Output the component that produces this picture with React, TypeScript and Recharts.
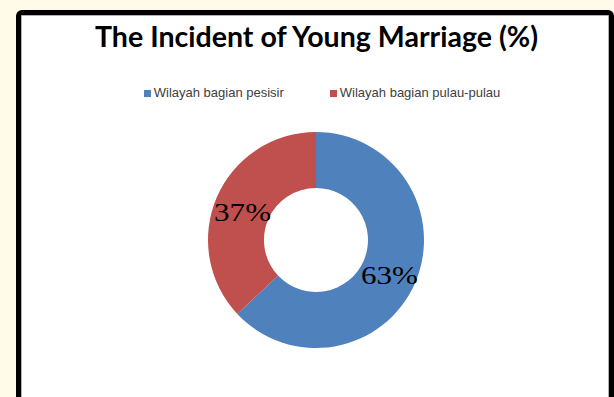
import React from 'react';
import { PieChart, Pie, Cell, Legend } from 'recharts';

const regions = ['Wilayah bagian pesisir', 'Wilayah bagian pulau-pulau'];
const shares = [63, 37];
const colors = ['#4F81BD', '#C0504D'];

const data = regions.map((name, i) => ({ name, value: shares[i] }));

const RAD = Math.PI / 180;

const renderLabel = ({ cx, cy, midAngle, innerRadius, outerRadius, value }: any) => {
  const r = (innerRadius + outerRadius) / 2;
  const x = cx + r * Math.cos(-midAngle * RAD);
  const y = cy + r * Math.sin(-midAngle * RAD);
  return (
    <text
      x={x}
      y={y}
      dy={4}
      textAnchor="middle"
      dominantBaseline="central"
      fill="#000"
      fontFamily="'Liberation Serif', serif"
      fontSize={25}
      textLength={57}
      lengthAdjust="spacingAndGlyphs"
    >
      {`${value}%`}
    </text>
  );
};

const LegendContent = () => (
  <div style={{ display: 'flex', justifyContent: 'center', gap: 46, paddingLeft: 30 }}>
    {regions.map((name, i) => (
      <div key={name} style={{ display: 'flex', alignItems: 'center' }}>
        <span style={{ width: 7, height: 7, background: colors[i], marginRight: 3, display: 'inline-block' }} />
        <span
          style={{
            fontFamily: "'Liberation Sans', Arial, sans-serif",
            fontSize: 13,
            color: '#404040',
            lineHeight: '14px',
          }}
        >
          {name}
        </span>
      </div>
    ))}
  </div>
);

export default function App() {
  return (
    <div
      style={{
        position: 'absolute',
        left: 0,
        top: 0,
        width: 614,
        height: 397,
        background: '#FFFBE8',
        overflow: 'hidden',
      }}
    >
      <div
        style={{
          position: 'absolute',
          left: 16,
          top: 10,
          width: 598,
          height: 480,
          boxSizing: 'border-box',
          border: '5px solid #000',
          borderRadius: 6,
          background: '#fff',
          boxShadow: 'inset 0 0 0 1px #b0b0b0',
        }}
      />
      <svg width={614} height={70} style={{ position: 'absolute', left: 0, top: 0 }}>
        <text
          x={316.5}
          y={47}
          textAnchor="middle"
          fontFamily="Lato, 'Open Sans', sans-serif"
          fontWeight="bold"
          fontSize={28}
          fill="#000"
          textLength={443}
          lengthAdjust="spacingAndGlyphs"
        >
          The Incident of Young Marriage (%)
        </text>
      </svg>
      <div style={{ position: 'absolute', left: 0, top: 0 }}>
        <PieChart width={614} height={397} margin={{ top: 0, right: 0, bottom: 0, left: 0 }}>
          <Legend
            verticalAlign="top"
            content={<LegendContent />}
            wrapperStyle={{ top: 86, left: 0, width: 614 }}
          />
          <Pie
            data={data}
            dataKey="value"
            nameKey="name"
            cx={316}
            cy={226}
            innerRadius={52}
            outerRadius={108}
            startAngle={90}
            endAngle={-270}
            stroke="none"
            label={renderLabel}
            labelLine={false}
            isAnimationActive={false}
          >
            {data.map((d, i) => (
              <Cell key={d.name} fill={colors[i]} />
            ))}
          </Pie>
        </PieChart>
      </div>
    </div>
  );
}
